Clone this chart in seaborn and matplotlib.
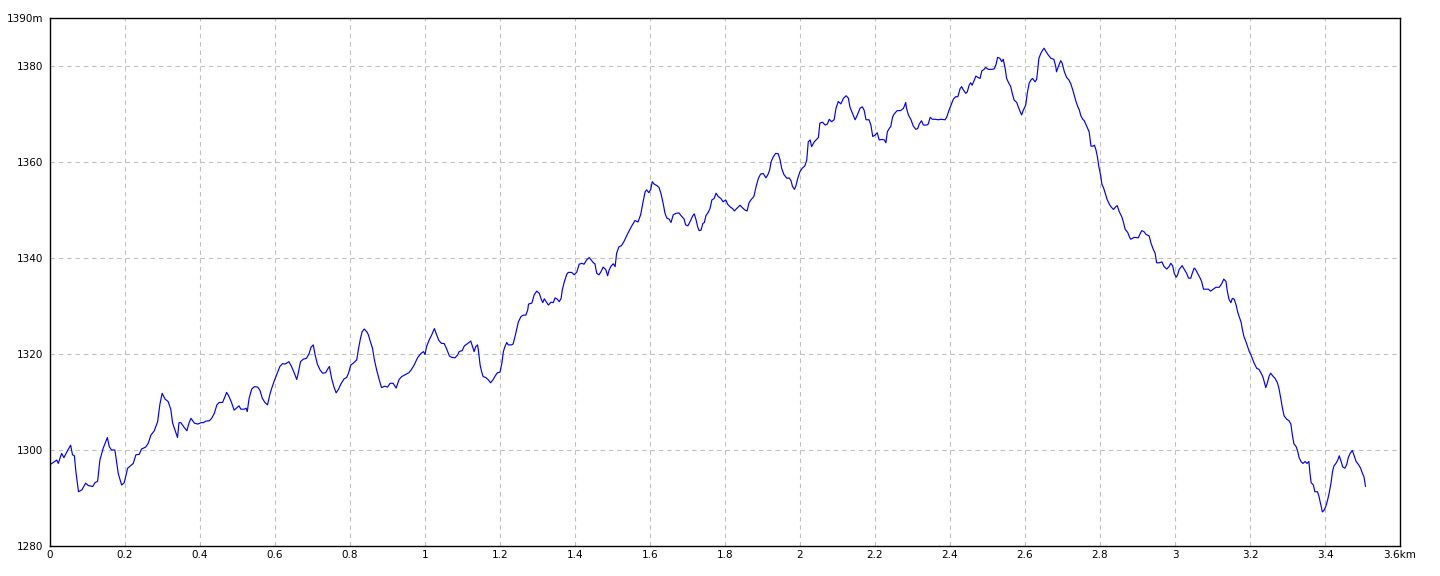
import matplotlib

matplotlib.use("Agg")
import pandas as pd
import seaborn as sns
from matplotlib import pyplot as plt

# Elevation profile (distance in km, elevation in m)
dist_km = [
    0.003, 0.018, 0.022, 0.031, 0.037, 0.047, 0.055, 0.060, 0.065, 0.069,
    0.076, 0.085, 0.095, 0.102, 0.114, 0.120, 0.127, 0.133, 0.142, 0.153,
    0.158, 0.164, 0.173, 0.182, 0.191, 0.198, 0.207, 0.222, 0.229, 0.238,
    0.244, 0.255, 0.262, 0.269, 0.278, 0.287, 0.293, 0.299, 0.303,
    0.307, 0.315, 0.322, 0.327, 0.333, 0.340, 0.344, 0.349, 0.356, 0.365,
    0.371, 0.376, 0.385, 0.394, 0.403, 0.409, 0.415, 0.425, 0.431, 0.438,
    0.445, 0.451, 0.460, 0.465, 0.471, 0.477, 0.484, 0.491, 0.498, 0.504,
    0.509, 0.518, 0.523, 0.526, 0.531, 0.538, 0.545, 0.554, 0.560, 0.566,
    0.573, 0.580, 0.587, 0.591, 0.598, 0.605, 0.613, 0.620,
    0.627, 0.637, 0.644, 0.651, 0.658, 0.662, 0.668, 0.675, 0.684, 0.691,
    0.696, 0.702, 0.707, 0.713, 0.720, 0.727, 0.735, 0.740, 0.745, 0.751,
    0.757, 0.763, 0.769, 0.776, 0.784, 0.791, 0.796, 0.802, 0.809, 0.818,
    0.822, 0.827, 0.832, 0.838, 0.845, 0.849, 0.853, 0.860, 0.865, 0.871,
    0.877, 0.884, 0.893, 0.900, 0.907, 0.915, 0.923, 0.931, 0.938, 0.945,
    0.954,
    0.957, 0.964, 0.971, 0.980, 0.989, 0.996, 1.000, 1.004, 1.011, 1.018,
    1.025, 1.031, 1.037, 1.044, 1.051, 1.058, 1.065, 1.071, 1.080, 1.087,
    1.091, 1.099, 1.105, 1.114, 1.122, 1.126, 1.131, 1.135, 1.140, 1.142,
    1.147, 1.151, 1.155, 1.162, 1.169, 1.175, 1.181, 1.187, 1.193, 1.200,
    1.205, 1.209, 1.213, 1.218, 1.222, 1.231, 1.235, 1.240, 1.245, 1.249,
    1.256, 1.262, 1.269, 1.274,
    1.276, 1.285, 1.291, 1.298, 1.305, 1.309, 1.314, 1.318, 1.323, 1.329,
    1.336, 1.342, 1.347, 1.353, 1.358, 1.363, 1.366, 1.371, 1.378, 1.382,
    1.391, 1.398, 1.405, 1.411, 1.418, 1.424, 1.431, 1.438, 1.443, 1.449,
    1.453, 1.458, 1.464, 1.469, 1.475, 1.482, 1.487, 1.491, 1.496, 1.502,
    1.507, 1.511, 1.517, 1.524, 1.531, 1.540, 1.550, 1.560, 1.568, 1.575,
    1.581,
    1.587, 1.591, 1.597, 1.602, 1.606, 1.611, 1.618, 1.624, 1.629, 1.635,
    1.640, 1.645, 1.651, 1.656, 1.662, 1.669, 1.677, 1.683, 1.691, 1.695,
    1.701, 1.707, 1.714, 1.718, 1.723, 1.727, 1.731, 1.736, 1.741, 1.745,
    1.749, 1.755, 1.760, 1.765, 1.771, 1.776, 1.782, 1.789, 1.795, 1.802,
    1.807, 1.813, 1.820, 1.825, 1.831, 1.840, 1.846, 1.853, 1.859, 1.864,
    1.869, 1.877, 1.883, 1.889, 1.895, 1.902, 1.909, 1.914, 1.919,
    1.923, 1.929, 1.935, 1.942, 1.947, 1.951, 1.957, 1.965, 1.971, 1.976,
    1.980, 1.985, 1.989, 1.994, 2.000, 2.006, 2.013, 2.018, 2.022, 2.027,
    2.031, 2.038, 2.049, 2.053, 2.060, 2.067, 2.073, 2.078, 2.084, 2.091,
    2.096, 2.102, 2.109, 2.116, 2.123, 2.129, 2.133, 2.140, 2.147, 2.153,
    2.160, 2.166, 2.171, 2.176, 2.184, 2.189, 2.194, 2.200, 2.206, 2.211,
    2.218, 2.225, 2.229, 2.233, 2.238,
    2.242, 2.247, 2.251, 2.259, 2.268, 2.276, 2.282, 2.284, 2.289, 2.296,
    2.302, 2.309, 2.314, 2.318, 2.324, 2.329, 2.338, 2.342, 2.347, 2.353,
    2.360, 2.369, 2.376, 2.387, 2.391, 2.397, 2.403, 2.409, 2.415, 2.421,
    2.427, 2.431, 2.435, 2.442, 2.446, 2.451, 2.455, 2.459, 2.465, 2.469,
    2.475, 2.480, 2.485, 2.491, 2.495, 2.502, 2.511, 2.518, 2.523, 2.527,
    2.533, 2.538, 2.542, 2.547, 2.551, 2.557,
    2.562, 2.566, 2.571, 2.578, 2.582, 2.587, 2.591, 2.595, 2.602, 2.606,
    2.611, 2.616, 2.620, 2.627, 2.631, 2.633, 2.637, 2.642, 2.647, 2.651,
    2.656, 2.662, 2.669, 2.677, 2.682, 2.684, 2.689, 2.695, 2.699, 2.705,
    2.711, 2.717, 2.722, 2.727, 2.731, 2.736, 2.741, 2.745, 2.749, 2.754,
    2.758, 2.763, 2.767, 2.771, 2.773, 2.776, 2.781, 2.785, 2.789, 2.793,
    2.797, 2.802, 2.805, 2.810, 2.814, 2.819, 2.825, 2.829, 2.836, 2.842,
    2.846, 2.851, 2.858, 2.862, 2.867, 2.874, 2.879,
    2.882, 2.891, 2.902, 2.911, 2.917, 2.923, 2.931, 2.936, 2.942, 2.947,
    2.951, 2.958, 2.965, 2.971, 2.978, 2.984, 2.989, 2.994, 2.998, 3.003,
    3.007, 3.011, 3.019, 3.025, 3.031, 3.036, 3.042, 3.046, 3.051, 3.055,
    3.061, 3.067, 3.071, 3.076, 3.082, 3.089, 3.095, 3.102, 3.109, 3.118,
    3.125, 3.130, 3.136, 3.139, 3.144, 3.149, 3.153, 3.158, 3.163, 3.167,
    3.171, 3.176, 3.180, 3.184, 3.189, 3.193, 3.198,
    3.202, 3.206, 3.211, 3.218, 3.224, 3.229, 3.234, 3.238, 3.242, 3.246,
    3.251, 3.255, 3.261, 3.267, 3.273, 3.277, 3.282, 3.286, 3.291, 3.298,
    3.304, 3.309, 3.313, 3.317, 3.323, 3.327, 3.331, 3.336, 3.341, 3.347,
    3.352, 3.357, 3.360, 3.363, 3.369, 3.373, 3.380, 3.384, 3.389, 3.393,
    3.397, 3.402, 3.407, 3.411, 3.416, 3.420, 3.424, 3.429, 3.434, 3.438,
    3.443, 3.447, 3.453, 3.458, 3.462, 3.467, 3.473, 3.477, 3.483, 3.489,
    3.495, 3.499, 3.504, 3.508,
]
elev_m = [
    1297.1, 1297.9, 1297.2, 1299.3, 1298.4, 1299.9, 1301.0, 1299.0, 1298.8, 1295.5,
    1291.3, 1291.7, 1293.1, 1292.6, 1292.4, 1293.2, 1293.5, 1297.9, 1300.4, 1302.6,
    1300.7, 1300.0, 1300.0, 1295.1, 1292.7, 1293.2, 1296.2, 1297.2, 1299.0, 1299.1,
    1300.2, 1300.6, 1301.4, 1303.1, 1304.0, 1305.9, 1309.5, 1311.8, 1311.2,
    1310.6, 1310.1, 1308.5, 1305.6, 1304.2, 1302.6, 1305.7, 1305.7, 1304.9, 1304.0,
    1305.7, 1306.6, 1305.6, 1305.4, 1305.7, 1305.7, 1306.0, 1306.1, 1306.6, 1307.6,
    1309.4, 1309.9, 1309.9, 1310.8, 1312.0, 1311.2, 1309.9, 1308.3, 1308.8, 1309.2,
    1308.5, 1308.5, 1308.7, 1308.0, 1310.8, 1312.7, 1313.2, 1313.1, 1312.4, 1310.8,
    1309.9, 1309.4, 1311.8, 1312.8, 1314.4, 1315.8, 1317.4, 1318.0,
    1317.9, 1318.4, 1317.4, 1316.1, 1314.7, 1316.0, 1318.4, 1318.9, 1319.1, 1320.1,
    1321.4, 1321.9, 1319.8, 1317.9, 1316.7, 1316.0, 1316.1, 1316.8, 1317.4, 1314.9,
    1313.2, 1311.9, 1312.6, 1313.8, 1314.8, 1315.1, 1316.0, 1317.7, 1318.1, 1318.8,
    1320.8, 1322.9, 1324.6, 1325.2, 1324.6, 1324.0, 1322.9, 1321.2, 1318.8, 1316.7,
    1314.9, 1313.0, 1313.3, 1313.1, 1313.9, 1313.9, 1312.9, 1314.7, 1315.3, 1315.6,
    1316.0,
    1316.1, 1316.8, 1317.7, 1319.2, 1320.1, 1320.5, 1319.9, 1321.5, 1322.9, 1324.0,
    1325.3, 1324.0, 1322.8, 1322.2, 1322.2, 1321.0, 1319.6, 1319.3, 1319.2, 1319.8,
    1320.5, 1320.7, 1321.7, 1322.2, 1322.7, 1321.7, 1320.5, 1321.5, 1321.9, 1321.0,
    1317.7, 1316.3, 1315.3, 1315.1, 1314.6, 1314.0, 1314.6, 1315.4, 1316.1, 1316.2,
    1318.1, 1320.5, 1321.5, 1322.4, 1321.9, 1321.9, 1322.1, 1323.6, 1325.3, 1326.7,
    1327.8, 1328.1, 1328.1, 1329.2,
    1330.4, 1330.6, 1332.3, 1333.1, 1332.6, 1331.6, 1330.7, 1331.5, 1330.9, 1330.2,
    1330.8, 1330.7, 1331.7, 1331.4, 1330.9, 1331.6, 1333.3, 1334.9, 1336.6, 1337.0,
    1337.0, 1336.5, 1337.1, 1338.7, 1338.9, 1338.7, 1339.6, 1340.1, 1339.6, 1339.0,
    1338.8, 1336.8, 1336.5, 1337.1, 1338.1, 1337.6, 1336.3, 1337.5, 1338.3, 1338.8,
    1338.2, 1341.0, 1342.3, 1342.6, 1343.5, 1345.0, 1346.5, 1347.8, 1347.5, 1349.0,
    1351.5,
    1353.8, 1354.2, 1353.6, 1354.3, 1355.9, 1355.4, 1355.1, 1354.7, 1353.5, 1351.4,
    1349.3, 1348.3, 1348.1, 1347.4, 1349.0, 1349.3, 1349.4, 1348.8, 1348.1, 1346.9,
    1346.7, 1347.6, 1348.8, 1349.2, 1347.9, 1346.5, 1345.7, 1345.8, 1347.2, 1347.4,
    1348.8, 1349.5, 1350.3, 1352.1, 1352.4, 1353.5, 1352.8, 1352.4, 1351.7, 1352.1,
    1351.2, 1350.7, 1350.3, 1349.8, 1350.3, 1351.0, 1350.5, 1350.0, 1349.8, 1351.5,
    1352.1, 1352.8, 1354.9, 1356.6, 1357.5, 1357.6, 1356.7, 1357.3, 1358.3,
    1360.1, 1361.1, 1361.8, 1361.7, 1360.4, 1358.7, 1357.4, 1356.6, 1356.7, 1356.1,
    1354.9, 1354.3, 1355.0, 1356.6, 1358.0, 1358.7, 1359.2, 1360.4, 1364.2, 1364.6,
    1363.2, 1364.2, 1365.1, 1368.1, 1368.3, 1367.7, 1367.9, 1368.9, 1368.4, 1368.8,
    1371.2, 1372.6, 1372.1, 1373.3, 1373.8, 1373.3, 1371.5, 1370.1, 1368.8, 1369.8,
    1371.2, 1371.5, 1370.8, 1368.8, 1368.8, 1367.7, 1365.3, 1365.6, 1366.1, 1364.6,
    1364.7, 1364.6, 1364.0, 1366.3, 1367.0,
    1367.4, 1369.4, 1370.0, 1370.7, 1370.7, 1371.2, 1372.4, 1371.2, 1369.8, 1368.8,
    1367.5, 1366.8, 1367.0, 1367.9, 1368.6, 1367.7, 1367.7, 1367.9, 1369.3, 1368.9,
    1368.9, 1368.8, 1368.9, 1368.8, 1369.3, 1370.7, 1371.9, 1373.1, 1373.6, 1373.6,
    1375.3, 1375.7, 1375.1, 1374.3, 1374.6, 1376.0, 1376.5, 1376.0, 1377.1, 1377.9,
    1377.6, 1377.4, 1379.0, 1379.3, 1379.7, 1379.3, 1379.3, 1379.4, 1380.4, 1381.8,
    1381.6, 1380.9, 1381.4, 1379.5, 1377.4, 1376.4,
    1375.7, 1374.3, 1372.9, 1372.4, 1371.5, 1370.5, 1369.8, 1370.7, 1371.9, 1374.3,
    1376.4, 1377.1, 1377.4, 1376.7, 1377.2, 1378.5, 1381.6, 1382.6, 1383.3, 1383.7,
    1383.0, 1382.3, 1381.6, 1381.4, 1379.9, 1378.8, 1379.9, 1381.1, 1380.6, 1378.8,
    1377.6, 1377.1, 1376.3, 1375.1, 1374.0, 1372.6, 1371.5, 1370.8, 1369.6, 1368.9,
    1368.6, 1367.7, 1367.0, 1366.3, 1365.1, 1363.3, 1363.3, 1363.5, 1362.6, 1361.1,
    1359.0, 1357.1, 1355.4, 1354.5, 1353.5, 1352.2, 1351.2, 1350.7, 1350.1, 1350.7,
    1350.9, 1349.7, 1348.6, 1347.6, 1346.0, 1345.3, 1344.3,
    1343.9, 1344.3, 1344.2, 1345.7, 1345.5, 1344.9, 1344.6, 1343.1, 1341.8, 1341.0,
    1339.0, 1339.0, 1339.2, 1338.2, 1337.7, 1338.2, 1338.9, 1338.3, 1336.8, 1336.0,
    1336.5, 1337.6, 1338.4, 1337.6, 1336.8, 1335.8, 1335.8, 1336.8, 1337.9, 1337.6,
    1336.7, 1335.8, 1335.1, 1333.5, 1333.5, 1333.5, 1333.1, 1333.5, 1333.9, 1333.9,
    1334.7, 1335.6, 1335.1, 1333.3, 1331.4, 1330.7, 1331.6, 1331.4, 1330.2, 1328.8,
    1327.8, 1326.7, 1325.0, 1323.6, 1322.6, 1321.7, 1320.5,
    1319.9, 1319.1, 1318.1, 1317.0, 1316.8, 1316.1, 1315.3, 1314.2, 1313.0, 1313.9,
    1315.4, 1316.0, 1315.4, 1314.9, 1314.0, 1312.9, 1310.8, 1308.9, 1307.1, 1306.4,
    1306.1, 1305.4, 1303.1, 1301.3, 1300.7, 1299.8, 1298.4, 1297.6, 1297.2, 1297.6,
    1297.2, 1297.6, 1295.1, 1293.2, 1292.7, 1291.3, 1291.3, 1290.3, 1288.5, 1287.1,
    1287.4, 1288.2, 1289.6, 1291.0, 1293.1, 1295.5, 1296.7, 1297.2, 1297.9, 1298.8,
    1297.6, 1296.5, 1296.2, 1297.0, 1298.4, 1299.3, 1299.9, 1299.0, 1297.6, 1297.0,
    1296.2, 1295.3, 1294.4, 1292.4,
]

x_ticks = [0, 0.2, 0.4, 0.6, 0.8, 1, 1.2, 1.4, 1.6, 1.8, 2, 2.2, 2.4, 2.6, 2.8,
           3, 3.2, 3.4, 3.6]
x_tick_labels = ["0", "0.2", "0.4", "0.6", "0.8", "1", "1.2", "1.4", "1.6",
                 "1.8", "2", "2.2", "2.4", "2.6", "2.8", "3", "3.2", "3.4",
                 "3.6km"]
y_ticks = [1280, 1300, 1320, 1340, 1360, 1380, 1390]
y_tick_labels = ["1280", "1300", "1320", "1340", "1360", "1380", "1390m"]

df = pd.DataFrame({"dist": dist_km, "elev": elev_m})

sns.set_style("white")
plt.rcParams["font.family"] = ["DejaVu Sans"]

fig = plt.figure(figsize=(14.4, 5.76), dpi=100)
ax = fig.add_axes([50 / 1440, 30 / 576, 1350 / 1440, 528 / 576])

# Dashed grid, drawn under the profile
for xv in x_ticks[1:-1]:
    ax.axvline(xv, color="#c0c0c0", linestyle=(0, (4, 3.5)), linewidth=0.8, zorder=0)
for yv in y_ticks[1:-1]:
    ax.axhline(yv, color="#c0c0c0", linestyle=(0, (4, 3.5)), linewidth=0.8, zorder=0)

sns.lineplot(data=df, x="dist", y="elev", ax=ax, color="#0000ff",
             linewidth=0.85, sort=False, estimator=None)

ax.set_xlim(0, 3.6)
ax.set_ylim(1280, 1390)
ax.set_xticks(x_ticks)
ax.set_xticklabels(x_tick_labels)
ax.set_yticks(y_ticks)
ax.set_yticklabels(y_tick_labels)
ax.tick_params(axis="both", length=0, labelsize=7.5, colors="black")
ax.tick_params(axis="x", pad=3)
ax.tick_params(axis="y", pad=5)
ax.set_xlabel("")
ax.set_ylabel("")
for spine in ax.spines.values():
    spine.set_visible(True)
    spine.set_color("black")
    spine.set_linewidth(1.0)

fig.savefig("out.png", dpi=100)
